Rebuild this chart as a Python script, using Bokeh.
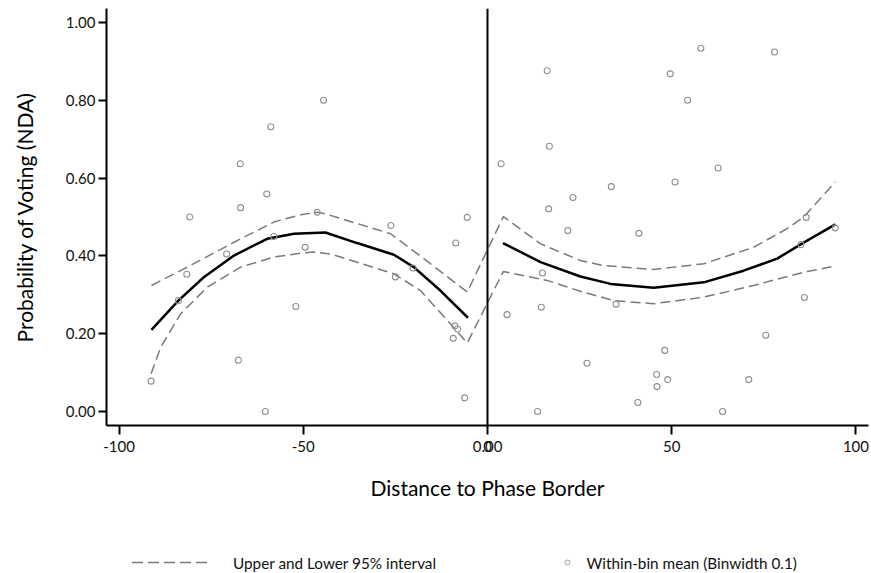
from bokeh.plotting import figure
from bokeh.layouts import column
from bokeh.models import Range1d, FixedTicker, PrintfTickFormatter, Span
from bokeh.core.properties import value
from bokeh.embed import file_html
from bokeh.resources import INLINE

# Within-bin means
bin_x = [-91.3, -83.9, -81.6, -80.8, -70.8, -67.6, -67.1, -67.0, -60.3, -59.9, -58.8, -58.0,
         -52.0, -49.5, -46.2, -44.5, -26.2, -25.0, -20.2, -9.3, -8.8, -8.6, -8.1, -6.2, -5.5,
         3.7, 5.3, 13.6, 14.6, 14.9, 16.2, 16.6, 16.8, 21.8, 23.2, 27.0, 33.6, 34.9, 40.8, 41.1,
         45.9, 46.0, 48.1, 48.9, 49.6, 50.9, 54.3, 57.9, 62.6, 63.8, 70.9, 75.5, 77.9, 85.1,
         86.0, 86.5, 94.4]
bin_y = [0.078, 0.285, 0.353, 0.500, 0.405, 0.132, 0.637, 0.524, 0.000, 0.559, 0.732, 0.450,
         0.270, 0.422, 0.512, 0.800, 0.478, 0.346, 0.369, 0.188, 0.220, 0.433, 0.212, 0.035, 0.499,
         0.637, 0.249, 0.000, 0.268, 0.356, 0.876, 0.521, 0.682, 0.465, 0.550, 0.124, 0.578, 0.276,
         0.023, 0.458, 0.095, 0.064, 0.157, 0.082, 0.868, 0.590, 0.800, 0.934, 0.626, 0.000,
         0.082, 0.196, 0.924, 0.429, 0.293, 0.499, 0.472]

# Fitted values (left and right of border)
fit_left_x = [-91.2, -83.9, -77.0, -68.8, -59.8, -52.5, -44.0, -35.4, -25.4, -20.0, -12.8, -5.3]
fit_left_y = [0.210, 0.285, 0.345, 0.401, 0.444, 0.457, 0.460, 0.433, 0.403, 0.371, 0.311, 0.241]
fit_right_x = [4.2, 14.4, 25.2, 33.4, 45.1, 58.7, 69.5, 78.6, 85.8, 94.4]
fit_right_y = [0.433, 0.384, 0.347, 0.328, 0.318, 0.332, 0.362, 0.393, 0.434, 0.481]

# 95% interval bounds
upper_x = [-91.2, -81.5, -68.8, -58.0, -50.7, -46.2, -44.0, -26.3, -15.5, -5.5,
           4.3, 14.4, 25.2, 31.6, 45.1, 58.7, 72.2, 81.3, 85.8, 94.4]
upper_y = [0.324, 0.371, 0.435, 0.487, 0.506, 0.512, 0.508, 0.457, 0.380, 0.307,
           0.501, 0.431, 0.388, 0.375, 0.365, 0.380, 0.422, 0.470, 0.500, 0.590]
lower_x = [-91.3, -88.7, -83.3, -76.0, -67.0, -58.0, -50.7, -47.1, -42.6, -25.4, -18.2, -10.9, -5.5,
           4.3, 16.2, 25.2, 34.3, 45.1, 58.7, 72.2, 85.8, 94.4]
lower_y = [0.097, 0.165, 0.251, 0.320, 0.371, 0.397, 0.407, 0.410, 0.405, 0.354, 0.311, 0.234, 0.176,
           0.360, 0.337, 0.309, 0.285, 0.277, 0.294, 0.324, 0.358, 0.374]

# ticks (the border line carries its own "0.00" label at x = 0)
x_ticks = [-100, -50, 0, 0.01, 50, 100]
x_tick_labels = ["-100", "-50", "0", "0.00", "50", "100"]
y_ticks = [0.0, 0.2, 0.4, 0.6, 0.8, 1.0]

legend_labels = ["Upper and Lower 95% interval", "Within-bin mean (Binwidth 0.1)"]

FONT = "Lato"
W = 871
H_MAIN = 520
H_LEG = 53
LEFT, RIGHT = 106, 3

p = figure(width=W, height=H_MAIN, output_backend="svg", toolbar_location=None,
           x_range=Range1d(-103.4, 103.4), y_range=Range1d(-0.036, 1.036),
           min_border_left=LEFT, min_border_right=RIGHT, min_border_top=8, min_border_bottom=95)
p.outline_line_color = None
p.xgrid.visible = False
p.ygrid.visible = False

for ax in (p.xaxis[0], p.yaxis[0]):
    ax.axis_line_width = 2
    ax.axis_line_color = "black"
    ax.major_tick_line_width = 2
    ax.major_tick_line_color = "black"
    ax.minor_tick_line_color = None
    ax.major_tick_in = 0
    ax.major_label_text_font = FONT
    ax.major_label_text_font_size = "15px"
    ax.major_label_text_color = "#111111"
    ax.axis_label_text_font = FONT
    ax.axis_label_text_font_size = "21px"
    ax.axis_label_text_font_style = "normal"
    ax.axis_label_text_color = "black"

p.xaxis.ticker = FixedTicker(ticks=x_ticks)
p.xaxis.major_label_overrides = {t: s for t, s in zip(x_ticks, x_tick_labels)}
p.xaxis.major_tick_out = 9
p.xaxis.major_label_standoff = 6
p.xaxis.axis_label = "Distance to Phase Border"
p.xaxis.axis_label_standoff = 20

p.yaxis.ticker = FixedTicker(ticks=y_ticks)
p.yaxis.formatter = PrintfTickFormatter(format="%.2f")
p.yaxis.major_tick_out = 8
p.yaxis.major_label_standoff = 3
p.yaxis.axis_label = "Probability of Voting (NDA)"
p.yaxis.axis_label_standoff = 26

p.add_layout(Span(location=0, dimension="height", line_color="black", line_width=2))

dash_col = "#7a7a7a"
p.line(upper_x, upper_y, line_color=dash_col, line_width=1.5, line_dash="10 5")
p.line(lower_x, lower_y, line_color=dash_col, line_width=1.5, line_dash="10 5")
p.line(fit_left_x, fit_left_y, line_color="black", line_width=2.5)
p.line(fit_right_x, fit_right_y, line_color="black", line_width=2.5)
p.scatter(bin_x, bin_y, marker="circle", size=6, fill_color=None,
          line_color="#8f8f8f", line_width=1.1)

# legend strip below the chart; its frame is aligned with the main frame,
# so the x range is expressed in page pixels
lg = figure(width=W, height=H_LEG, output_backend="svg", toolbar_location=None,
            x_range=Range1d(LEFT, W - RIGHT), y_range=Range1d(H_LEG, 0),
            x_axis_location=None, y_axis_location=None,
            min_border_left=LEFT, min_border_right=RIGHT, min_border_top=0, min_border_bottom=0)
lg.outline_line_color = None
lg.xgrid.visible = False
lg.ygrid.visible = False
ly = 42
lg.segment(x0=[131.5], y0=[ly], x1=[210], y1=[ly], line_color=dash_col, line_width=1.5,
           line_dash="11 5")
lg.scatter([567], [ly], marker="circle", size=5, fill_color=None, line_color="#a0a0a0",
           line_width=1)
lg.text(x=[232.5, 586], y=[ly, ly], text=legend_labels, text_font=value(FONT),
        text_font_size="15.3px", text_color="#111111", text_baseline="middle",
        text_align="left")

layout = column(p, lg, spacing=0)
open("out.html", "w").write(file_html(layout, INLINE))
